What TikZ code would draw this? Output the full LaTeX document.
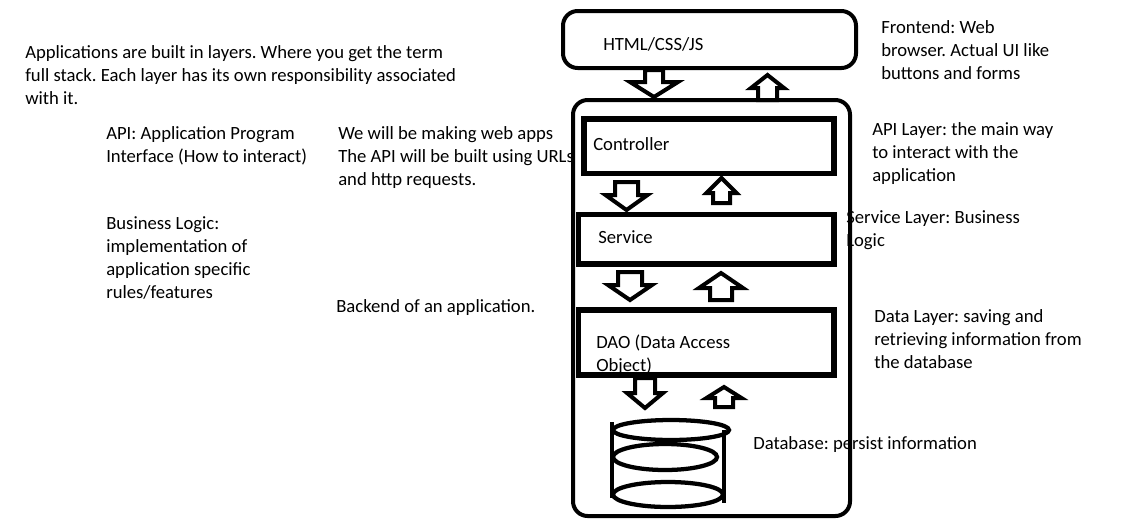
\documentclass[tikz,border=0pt]{standalone}
\usepackage{fontspec}
\setmainfont{Carlito}
\frenchspacing
\newcommand\blockarrow[6]{% cx, base y, head y, tip y, half shaft, half head
  \draw[blk] ({#1-#5},#2) -- ({#1+#5},#2) -- ({#1+#5},#3) -- ({#1+#6},#3) -- (#1,#4) -- ({#1-#6},#3) -- ({#1-#5},#3) -- cycle;}
\begin{document}
\begin{tikzpicture}[x=0.75pt,y=-0.75pt,
  txt/.style={anchor=base west, inner sep=0pt, align=left, font=\fontsize{14pt}{17.25pt}\selectfont\frenchspacing},
  frame/.style={line width=3pt, rounded corners=11pt},
  layerbox/.style={line width=3.8pt},
  blk/.style={line width=3pt, line join=miter},
  cyl/.style={line width=3.2pt}]
\useasboundingbox (0,0) rectangle (1136,526);

% texts (anchored at the baseline of their last line)
\node[txt] (intro) at (25,104) {Applications are built in layers. Where you get the term\\full stack. Each layer has its own responsibility associated\\with it.};
\node[txt] (api) at (106,162) {API: Application Program\\Interface (How to interact)};
\node[txt] (web) at (338,185) {We will be making web apps\\The API will be built using URLs\\and http requests.};
\node[txt] (biz) at (106,298) {Business Logic:\\implementation of\\application specific\\rules/features};
\node[txt] (backend) at (336,312) {Backend of an application.};
\node[txt] (frontend) at (881,79) {Frontend: Web\\browser. Actual UI like\\buttons and forms};
\node[txt] (apilayer) at (872,181) {API Layer: the main way\\to interact with the\\application};
\node[txt] (servlayer) at (846,246) {Service Layer: Business\\Logic};
\node[txt] (datalayer) at (874,368) {Data Layer: saving and\\retrieving information from\\the database};
\node[txt] (dbtxt) at (753,449) {Database: persist information};
\node[txt] (html) at (603,50) {HTML/CSS/JS};
\node[txt] (ctrl) at (593,150) {Controller};
\node[txt] (serv) at (598,243) {Service};
\node[txt] (dao) at (596,371) {DAO (Data Access\\Object)};

% frames
\draw[frame] (563,11) rectangle (856,68);
\draw[frame] (573,100) rectangle (850,516);
\draw[layerbox] (584,119) rectangle (834,173.5);
\draw[layerbox] (578.5,214.5) rectangle (834,264);
\draw[layerbox] (578.5,310) rectangle (834,375);

% block arrows
\blockarrow{654}{70}{82}{97}{9}{24}
\blockarrow{767.5}{100}{88}{75}{9.5}{16.5}
\blockarrow{626.5}{182}{195}{210}{11.5}{21}
\blockarrow{721.5}{203}{193}{178}{8.5}{15}
\blockarrow{630}{272}{285}{300}{12}{22}
\blockarrow{721}{300}{288}{273}{11}{22}
\blockarrow{645}{378}{393}{408}{10}{18}
\blockarrow{724}{407}{398}{387}{9}{17.5}

% database cylinder
\draw[cyl] (671,430) ellipse [x radius=58, y radius=10];
\draw[cyl] (665,457) ellipse [x radius=52, y radius=13];
\draw[cyl] (668,494.5) ellipse [x radius=55, y radius=12.5];
\draw[cyl] (612,422) -- (612,498);
\draw[cyl] (724,430) -- (724,503);
\end{tikzpicture}
\end{document}
